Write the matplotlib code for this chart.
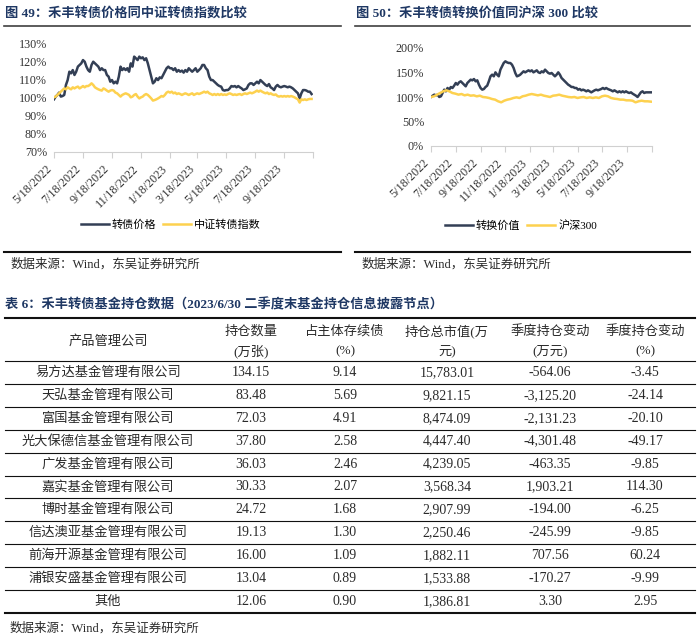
import matplotlib
matplotlib.use("Agg")
import matplotlib.pyplot as plt
import pandas as pd

plt.rcParams['font.family'] = ['Liberation Serif', 'Noto Sans CJK SC']

NAVY = '#333f55'
YELLOW = '#fdd14f'
TITLE_C = '#1f3864'
TXT = '#2a2a2a'

# 图49: 转债价格 vs 中证转债指数 (%)
bond_price = [99.0, 100.5, 101.4, 102.7, 100.5, 100.8, 101.4, 106.9, 109.6, 114.2, 113.3, 115.1,
              112.4, 114.2, 117.0, 117.9, 118.8, 120.6, 119.7, 117.0, 115.1, 114.2, 117.9, 119.7,
              118.8, 117.9, 117.0, 115.1, 116.1, 115.1, 115.1, 112.4, 111.5, 108.7, 109.6, 107.8,
              108.7, 107.8, 111.5, 117.0, 115.1, 116.1, 115.1, 116.1, 114.2, 118.8, 117.0, 122.5,
              121.6, 120.6, 122.5, 121.6, 122.1, 120.6, 121.6, 118.8, 115.1, 111.5, 107.8, 108.7,
              110.6, 109.6, 111.1, 110.6, 112.4, 114.2, 116.1, 117.0, 116.1, 116.1, 115.1, 116.1,
              114.2, 115.1, 114.2, 114.8, 113.7, 115.1, 114.2, 116.1, 115.1, 114.2, 115.1, 116.1,
              114.2, 115.1, 116.1, 117.9, 117.9, 116.1, 115.1, 111.5, 109.6, 109.6, 108.7, 107.8,
              106.9, 106.3, 106.0, 104.1, 103.8, 104.1, 104.1, 105.0, 106.3, 106.0, 106.3, 105.6,
              106.3, 105.6, 105.0, 104.1, 104.5, 105.0, 106.9, 107.8, 107.8, 106.9, 107.8, 108.7,
              107.8, 109.6, 108.7, 107.8, 106.9, 106.3, 107.4, 105.6, 105.0, 104.1, 106.0, 106.9,
              106.0, 105.6, 106.0, 106.3, 106.0, 105.6, 106.0, 105.6, 105.0, 104.1, 103.2, 102.3,
              99.5, 102.3, 104.1, 104.1, 103.8, 103.2, 103.2, 101.9]
cb_index = [100.1, 100.5, 101.4, 102.3, 103.2, 104.1, 105.0, 104.5, 105.6, 105.0, 104.5, 105.6,
            105.0, 105.6, 106.0, 105.0, 105.6, 106.3, 105.6, 106.3, 106.3, 106.9, 107.8, 106.9,
            105.6, 105.0, 104.5, 104.1, 103.8, 105.0, 104.5, 103.8, 103.2, 103.8, 104.1, 103.8,
            102.7, 102.3, 101.4, 100.5, 101.4, 101.9, 102.3, 101.9, 101.4, 100.1, 100.5, 101.4,
            101.9, 100.5, 99.5, 100.1, 100.5, 101.4, 101.9, 101.4, 100.5, 99.5, 98.3, 98.6,
            99.0, 99.5, 100.1, 100.8, 100.5, 101.4, 102.7, 103.2, 102.7, 103.2, 102.3, 102.7,
            101.9, 102.3, 101.9, 101.4, 101.9, 102.3, 101.9, 101.4, 101.9, 102.3, 101.4, 101.9,
            102.3, 101.9, 102.3, 102.7, 103.2, 102.7, 103.2, 102.3, 101.9, 101.4, 101.9, 101.4,
            101.9, 101.4, 101.9, 101.4, 101.7, 101.4, 101.9, 102.3, 101.9, 101.4, 101.7, 101.4,
            101.7, 101.9, 101.4, 101.9, 102.3, 101.9, 102.3, 102.7, 102.3, 102.7, 103.2, 103.8,
            103.2, 103.8, 103.2, 102.7, 102.3, 102.7, 101.9, 102.3, 101.7, 101.4, 101.7, 100.8,
            100.5, 100.8, 100.5, 100.8, 100.5, 100.8, 100.5, 100.8, 100.5, 100.1, 99.5, 99.0,
            97.2, 99.0, 98.6, 99.0, 98.6, 99.0, 99.2, 99.2]

# 图50: 转换价值 vs 沪深300 (%)
conv_value = [100.0, 102.7, 104.8, 103.4, 104.8, 100.0, 101.4, 108.2, 115.0, 111.6, 118.4, 115.0,
              120.4, 118.4, 123.1, 128.6, 125.2, 129.9, 132.0, 128.6, 125.2, 121.8, 128.6, 132.0,
              135.4, 134.0, 136.7, 132.0, 134.0, 125.2, 118.4, 115.0, 116.3, 120.4, 123.1, 132.0,
              142.2, 145.6, 142.2, 150.3, 145.6, 142.2, 155.8, 162.6, 169.4, 172.8, 170.7, 169.4,
              169.4, 166.0, 159.2, 149.0, 142.2, 143.5, 145.6, 149.0, 152.4, 150.3, 152.4, 154.4,
              152.4, 154.4, 150.3, 152.4, 154.4, 150.3, 149.0, 152.4, 150.3, 155.8, 152.4, 149.0,
              147.6, 149.0, 145.6, 142.2, 145.6, 150.3, 145.6, 138.8, 135.4, 132.0, 128.6, 125.2,
              123.1, 120.4, 120.4, 118.4, 118.4, 115.0, 116.3, 113.6, 115.0, 113.6, 111.6, 113.6,
              111.6, 109.5, 111.6, 113.6, 115.0, 113.6, 115.0, 116.3, 118.4, 116.3, 118.4, 116.3,
              115.0, 113.6, 111.6, 113.6, 111.6, 109.5, 111.6, 109.5, 111.6, 109.5, 111.6, 109.5,
              108.2, 109.5, 106.8, 104.8, 102.7, 100.0, 104.8, 109.5, 111.6, 108.2, 109.5, 109.5,
              109.5, 109.5]
hs300 = [100.0, 101.4, 104.8, 108.2, 111.6, 113.6, 111.6, 108.2, 106.8, 104.8, 106.1, 103.4,
         104.8, 102.7, 103.4, 101.4, 102.7, 100.0, 99.3, 98.0, 95.9, 94.6, 91.2, 89.1,
         92.5, 94.6, 95.9, 98.0, 99.3, 98.0, 101.4, 102.7, 104.8, 106.1, 104.8, 103.4,
         104.8, 102.7, 101.4, 100.0, 102.7, 103.4, 104.8, 102.7, 101.4, 100.0, 99.3, 100.0,
         98.0, 99.3, 100.0, 98.0, 99.3, 98.0, 99.3, 98.0, 101.4, 102.7, 101.4, 98.0,
         96.6, 95.9, 94.6, 94.6, 93.2, 93.2, 92.5, 89.1, 91.2, 92.5, 91.2, 91.2, 90.5]

tick_dates = ['2022-05-18', '2022-07-18', '2022-09-18', '2022-11-18', '2023-01-18',
              '2023-03-18', '2023-05-18', '2023-07-18', '2023-09-18', '2023-11-18']
tick_labels = ['5/18/2022', '7/18/2022', '9/18/2022', '11/18/2022', '1/18/2023',
               '3/18/2023', '5/18/2023', '7/18/2023', '9/18/2023', '']

# 表6
companies = ['易方达基金管理有限公司', '天弘基金管理有限公司', '富国基金管理有限公司',
             '光大保德信基金管理有限公司', '广发基金管理有限公司', '嘉实基金管理有限公司',
             '博时基金管理有限公司', '信达澳亚基金管理有限公司', '前海开源基金管理有限公司',
             '浦银安盛基金管理有限公司', '其他']
qty = [134.15, 83.48, 72.03, 37.80, 36.03, 30.33, 24.72, 19.13, 16.00, 13.04, 12.06]
pct_bond = [9.14, 5.69, 4.91, 2.58, 2.46, 2.07, 1.68, 1.30, 1.09, 0.89, 0.90]
mkt_value = [15783.01, 9821.15, 8474.09, 4447.40, 4239.05, 3568.34, 2907.99, 2250.46,
             1882.11, 1533.88, 1386.81]
chg_value = [-564.06, -3125.20, -2131.23, -4301.48, -463.35, 1903.21, -194.00, -245.99,
             707.56, -170.27, 3.30]
chg_pct = [-3.45, -24.14, -20.10, -49.17, -9.85, 114.30, -6.25, -9.85, 60.24, -9.99, 2.95]
headers = [['产品管理公司'], ['持仓数量', '(万张)'], ['占主体存续债', '(%)'],
           ['持仓总市值(万', '元)'], ['季度持仓变动', '(万元)'], ['季度持仓变动', '(%)']]

W, H = 700, 639
fig = plt.figure(figsize=(7, 6.39), dpi=100)

# overlay in pixel coordinates for titles, rules and the table
ov = fig.add_axes([0, 0, 1, 1])
ov.set_xlim(0, W)
ov.set_ylim(H, 0)
ov.axis('off')


def chart(rect, series, names, ylim, yticks, leg_xy):
    l, t, r, b = rect
    ax = fig.add_axes([l / W, 1 - b / H, (r - l) / W, (b - t) / H])
    ax.patch.set_alpha(0)
    for vals, c, name in zip(series, [NAVY, YELLOW], names):
        d = pd.date_range('2022-05-18', '2023-11-15', periods=len(vals))
        ax.plot(d, vals, color=c, lw=1.8, label=name)
    ax.set_xlim(pd.Timestamp(tick_dates[0]), pd.Timestamp(tick_dates[-1]))
    ax.set_ylim(*ylim)
    ax.set_yticks(yticks)
    ax.set_yticklabels([f'{v}%' for v in yticks])
    ax.set_xticks(pd.to_datetime(tick_dates))
    ax.set_xticklabels(tick_labels, rotation=45, ha='right')
    for s in ['top', 'right', 'left']:
        ax.spines[s].set_visible(False)
    ax.spines['bottom'].set_color('#d0d0d0')
    ax.tick_params(axis='y', length=0, pad=5, labelsize=8.7, labelcolor='#333333')
    ax.tick_params(axis='x', length=4, color='#d0d0d0', pad=4, labelsize=8.7,
                   labelcolor='#333333')
    ax.legend(loc='center', bbox_to_anchor=(leg_xy[0] / W, 1 - leg_xy[1] / H),
              bbox_transform=fig.transFigure, ncol=2, frameon=False, fontsize=8,
              handlelength=2.5, handletextpad=0.3, columnspacing=0.6)
    return ax


chart((54, 43, 313, 152), [bond_price, cb_index], ['转债价格', '中证转债指数'],
      (70, 130), [70, 80, 90, 100, 110, 120, 130], (171, 225))
chart((431, 48, 652, 146), [conv_value, hs300], ['转换价值', '沪深300'],
      (0, 200), [0, 50, 100, 150, 200], (521, 226))

# chart titles, rules and sources
for x0, x1, title in [(4, 341, '图 49：禾丰转债价格同中证转债指数比较'),
                      (355, 690, '图 50：禾丰转债转换价值同沪深 300 比较')]:
    ov.text(x0 + 1, 13, title, fontsize=9.5, fontweight='bold', color=TITLE_C,
            ha='left', va='center')
    ov.plot([x0, x1], [25.5, 25.5], color='#404040', lw=1.2)
    ov.plot([x0, x1], [252, 252], color='#111111', lw=1.5)
    ov.text(x0 + 7, 264, '数据来源：Wind，东吴证券研究所', fontsize=9, color=TXT,
            ha='left', va='center')

# table
ov.text(5, 305, '表 6：禾丰转债基金持仓数据（2023/6/30 二季度末基金持仓信息披露节点）',
        fontsize=9.5, fontweight='bold', color=TITLE_C, ha='left', va='center')
col_x = [108, 251, 345, 447, 550, 645]
tx0, tx1 = 5, 695
ov.plot([tx0, tx1], [318, 318], color='#111111', lw=1.5)
for cx, hd in zip(col_x, headers):
    if len(hd) == 1:
        ov.text(cx, 341, hd[0], fontsize=9.5, ha='center', va='center', color=TXT)
    else:
        ov.text(cx, 331, hd[0], fontsize=9.5, ha='center', va='center', color=TXT)
        ov.text(cx, 351, hd[1], fontsize=9.5, ha='center', va='center', color=TXT)

row_top = 361
row_h = 22.9
ov.plot([tx0, tx1], [row_top, row_top], color='#111111', lw=0.8)
for i, name in enumerate(companies):
    yc = row_top + row_h * (i + 0.5)
    ov.text(col_x[0], yc, name, fontsize=9.5, ha='center', va='center', color=TXT)
    nums = [f'{qty[i]:,.2f}', f'{pct_bond[i]:,.2f}', f'{mkt_value[i]:,.2f}',
            f'{chg_value[i]:,.2f}', f'{chg_pct[i]:,.2f}']
    for cx, txt in zip(col_x[1:], nums):
        ov.text(cx, yc, txt, fontsize=10, ha='center', va='center', color=TXT)
    yb = row_top + row_h * (i + 1)
    last = i == len(companies) - 1
    ov.plot([tx0, tx1], [yb, yb], color='#111111', lw=1.5 if last else 0.8)

ov.text(10, 628, '数据来源：Wind，东吴证券研究所', fontsize=9, color=TXT,
        ha='left', va='center')

fig.savefig('out.png', dpi=100, facecolor='white')
